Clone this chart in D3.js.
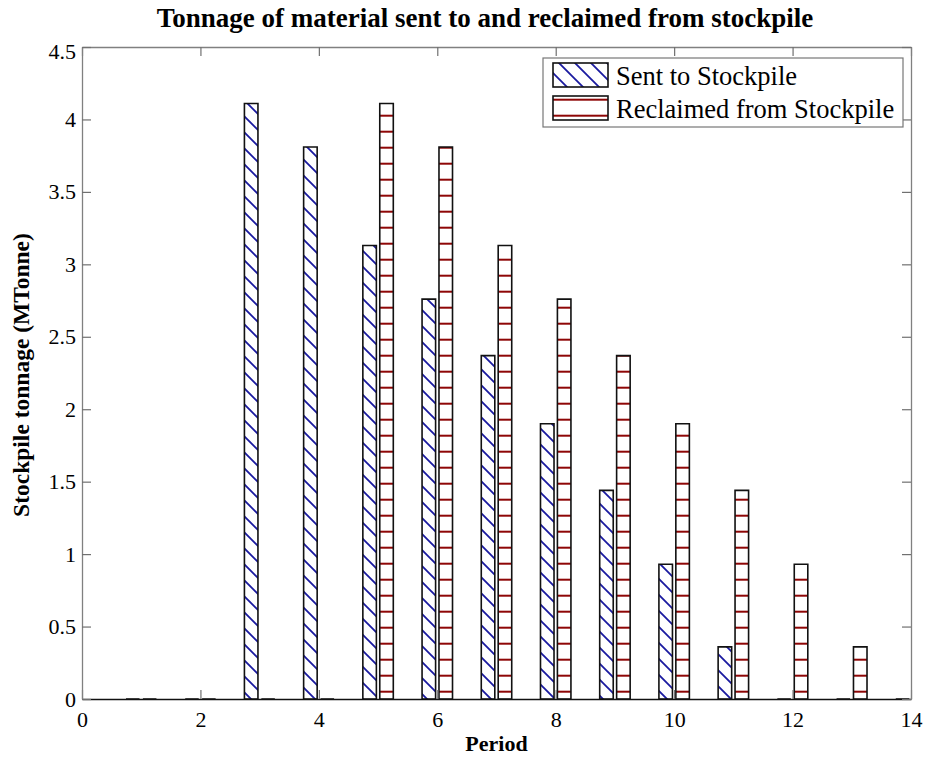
<!DOCTYPE html>
<html>
<head>
<meta charset="utf-8">
<script src="https://cdn.jsdelivr.net/npm/d3@7/dist/d3.min.js"></script>
<style>
  html, body { margin: 0; padding: 0; background: #fff; }
  svg { display: block; font-family: "Liberation Serif", "Times New Roman", serif; }
</style>
</head>
<body>
<svg id="chart" width="925" height="757"></svg>
<script>
// Stockpile tonnage per period (MTonne)
const periods = [1, 2, 3, 4, 5, 6, 7, 8, 9, 10, 11, 12, 13, 14];
const sentTonnage = [0, 0, 4.11, 3.81, 3.13, 2.76, 2.37, 1.90, 1.44, 0.93, 0.36, 0, 0, 0];
const reclaimedTonnage = [0, 0, 0, 0, 4.11, 3.81, 3.13, 2.76, 2.37, 1.90, 1.44, 0.93, 0.36, 0];
const seriesNames = ["Sent to Stockpile", "Reclaimed from Stockpile"];
const xTicks = [0, 2, 4, 6, 8, 10, 12, 14];
const yTicks = [0, 0.5, 1, 1.5, 2, 2.5, 3, 3.5, 4, 4.5];

const titleText = "Tonnage of material sent to and reclaimed from stockpile";
const xLabelText = "Period";
const yLabelText = "Stockpile tonnage (MTonne)";

const W = 925, H = 757;
const plot = { left: 82, right: 911, top: 47, bottom: 699 };

const svg = d3.select("#chart");
svg.append("rect").attr("width", W).attr("height", H).attr("fill", "#fff");

const x = d3.scaleLinear().domain([0, 14]).range([plot.left, plot.right]);
const y = d3.scaleLinear().domain([0, 4.5]).range([plot.bottom, plot.top]);

// Grouped bar geometry: two bars per group
const groupWidth = 2 / (2 + 1.5);
const barWidth = groupWidth / 2 * 0.8;
const offsets = [-groupWidth / 4, groupWidth / 4];

const defs = svg.append("defs");

// Diagonal blue hatch
const diag = defs.append("pattern")
  .attr("id", "hatchSent")
  .attr("patternUnits", "userSpaceOnUse")
  .attr("width", 16).attr("height", 16);
diag.append("rect").attr("width", 16).attr("height", 16).attr("fill", "#fff");
diag.append("path")
  .attr("d", "M-4,-4 L20,20 M-4,12 L4,20 M12,-4 L20,4")
  .attr("stroke", "#1a1aa0").attr("stroke-width", 1.8).attr("fill", "none");

// Horizontal red hatch
const horiz = defs.append("pattern")
  .attr("id", "hatchReclaimed")
  .attr("patternUnits", "userSpaceOnUse")
  .attr("width", 16).attr("height", 16);
horiz.append("rect").attr("width", 16).attr("height", 16).attr("fill", "#fff");
horiz.append("rect").attr("x", 0).attr("y", 2.7).attr("width", 16).attr("height", 2)
  .attr("fill", "#8e0606");

defs.append("clipPath").attr("id", "plotClip")
  .append("rect")
  .attr("x", plot.left).attr("y", plot.top - 2)
  .attr("width", plot.right - plot.left).attr("height", plot.bottom - plot.top + 4);

const fills = ["url(#hatchSent)", "url(#hatchReclaimed)"];
const seriesValues = [sentTonnage, reclaimedTonnage];

const barsG = svg.append("g").attr("clip-path", "url(#plotClip)");

seriesValues.forEach((vals, s) => {
  barsG.append("g")
    .selectAll("path")
    .data(periods.map((p, i) => ({ p, v: vals[i] })))
    .join("path")
    .attr("d", d => {
      const x0 = x(d.p + offsets[s] - barWidth / 2);
      const x1 = x(d.p + offsets[s] + barWidth / 2);
      const y0 = y(0), y1 = y(d.v);
      return `M${x0},${y0} V${y1} H${x1} V${y0} Z`;
    })
    .attr("fill", fills[s])
    .attr("stroke", "#111")
    .attr("stroke-width", 1.6);
});

// Axes with inward ticks
const tickLen = 9;
const fontTick = 22;

const gBottom = svg.append("g").attr("transform", `translate(0,${plot.bottom})`)
  .call(d3.axisBottom(x).tickValues(xTicks).tickFormat(d3.format("d"))
    .tickSizeInner(-tickLen).tickSizeOuter(0).tickPadding(12));
const gTop = svg.append("g").attr("transform", `translate(0,${plot.top})`)
  .call(d3.axisTop(x).tickValues(xTicks).tickFormat("")
    .tickSizeInner(-tickLen).tickSizeOuter(0));
const gLeft = svg.append("g").attr("transform", `translate(${plot.left},0)`)
  .call(d3.axisLeft(y).tickValues(yTicks).tickFormat(d => d3.format("")(d))
    .tickSizeInner(-tickLen).tickSizeOuter(0).tickPadding(6));
const gRight = svg.append("g").attr("transform", `translate(${plot.right},0)`)
  .call(d3.axisRight(y).tickValues(yTicks).tickFormat("")
    .tickSizeInner(-tickLen).tickSizeOuter(0));

[gTop, gLeft, gRight].forEach(g => {
  g.select(".domain").attr("stroke", "#808080").attr("stroke-width", 1.3);
});
gBottom.select(".domain").attr("stroke", "#111").attr("stroke-width", 1.5);
[gBottom, gTop, gLeft, gRight].forEach(g => {
  g.selectAll(".tick line").attr("stroke", "#707070").attr("stroke-width", 1.2);
  g.selectAll(".tick text")
    .attr("font-family", "Liberation Serif, Times New Roman, serif")
    .attr("font-size", fontTick).attr("fill", "#000");
});
// the top label sits slightly below its tick so it stays clear of the frame corner
gLeft.selectAll(".tick text").filter(d => d === 4.5).attr("dy", "0.5em");

// Title and axis labels
svg.append("text")
  .attr("x", 485).attr("y", 27)
  .attr("text-anchor", "middle")
  .attr("font-weight", "bold").attr("font-size", 27)
  .text(titleText);

svg.append("text")
  .attr("x", (plot.left + plot.right) / 2).attr("y", 751)
  .attr("text-anchor", "middle")
  .attr("font-weight", "bold").attr("font-size", 22)
  .text(xLabelText);

svg.append("text")
  .attr("transform", `translate(29,375) rotate(-90)`)
  .attr("text-anchor", "middle")
  .attr("font-weight", "bold").attr("font-size", 23.5)
  .text(yLabelText);

// Legend
const legend = svg.append("g");
legend.append("rect")
  .attr("x", 543).attr("y", 58).attr("width", 360).attr("height", 69)
  .attr("fill", "#fff").attr("stroke", "#777").attr("stroke-width", 1.2);

seriesNames.forEach((name, i) => {
  const top = 63 + i * 33;
  legend.append("rect")
    .attr("x", 553).attr("y", top).attr("width", 55).attr("height", 24)
    .attr("fill", fills[i]).attr("stroke", "#111").attr("stroke-width", 1.6);
  legend.append("text")
    .attr("x", 616).attr("y", top + 21.5)
    .attr("font-size", 26.5)
    .text(name);
});
</script>
</body>
</html>
